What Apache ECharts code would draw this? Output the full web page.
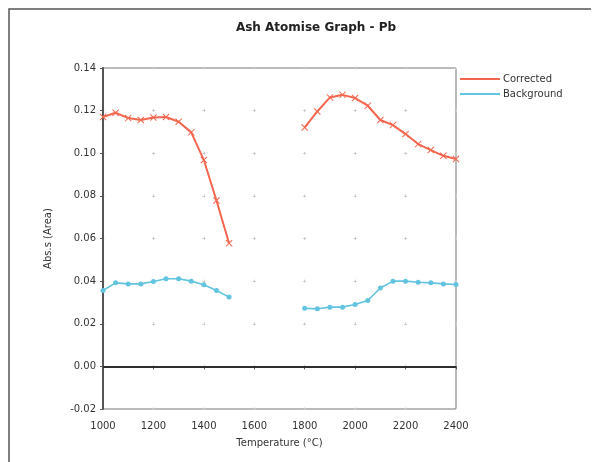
<!DOCTYPE html>
<html><head><meta charset="utf-8">
<script src="https://cdn.jsdelivr.net/npm/echarts@6/dist/echarts.min.js"></script>
<style>html,body{margin:0;padding:0;background:#fff}#c{width:602px;height:462px}</style>
</head><body><div id="c"></div>
<script>
var temperatures = [1000,1050,1100,1150,1200,1250,1300,1350,1400,1450,1500,1650,1800,1850,1900,1950,2000,2050,2100,2150,2200,2250,2300,2350,2400];
var corrected = [0.117,0.119,0.1165,0.1156,0.1168,0.117,0.1148,0.1098,0.0968,0.0778,0.0578,null,0.1121,0.1196,0.1262,0.1274,0.1259,0.1223,0.1156,0.1132,0.109,0.1043,0.1015,0.0988,0.0973];
var background = [0.0356,0.0392,0.0387,0.0387,0.0398,0.0411,0.0411,0.04,0.0383,0.0356,0.0325,null,0.0273,0.027,0.0278,0.0278,0.029,0.0309,0.0368,0.04,0.04,0.0395,0.0392,0.0387,0.0384];
var seriesNames = ['Corrected','Background'];
var titleText = 'Ash Atomise Graph - Pb';
var xName = 'Temperature (\u00B0C)';
var yName = 'Abs.s (Area)';

function pairs(vals){ return temperatures.map(function(t,i){ return [t, vals[i]===null ? '-' : vals[i]]; }); }
var crossPath = 'path://M0,1L1,0L5,4L9,0L10,1L6,5L10,9L9,10L5,6L1,10L0,9L4,5Z';
var font = 'DejaVu Sans';
var chart = echarts.init(document.getElementById('c'));
chart.setOption({
  animation:false,
  backgroundColor:'#fff',
  textStyle:{fontFamily:font},
  title:{text:titleText,left:311,top:17,textAlign:'center',textStyle:{fontSize:12,fontWeight:'bold',color:'#222',fontFamily:font}},
  legend:{orient:'vertical',left:455,top:69,itemWidth:40,itemHeight:2,itemGap:5,icon:'rect',
    textStyle:{fontSize:10,color:'#333',fontFamily:font,padding:[0,0,0,-2]},data:seriesNames},
  grid:{left:103,right:146,top:68,bottom:53,show:true,borderColor:'#777',borderWidth:1},
  xAxis:{type:'value',min:1000,max:2400,interval:200,name:xName,nameLocation:'middle',nameGap:29,
    nameTextStyle:{fontSize:10,color:'#333',fontFamily:font},
    axisLine:{lineStyle:{color:'#555',width:2}},axisTick:{show:true,length:3,lineStyle:{color:'#555'}},
    axisLabel:{fontSize:10,color:'#333',margin:12,fontFamily:font,formatter:function(v){return String(v);}},
    splitLine:{show:true,lineStyle:{color:'#ccc',width:1,type:[3,39.625],dashOffset:1.5}}},
  yAxis:{type:'value',min:-0.02,max:0.14,interval:0.02,name:yName,nameLocation:'middle',nameGap:50,
    nameTextStyle:{fontSize:10,color:'#333',fontFamily:font},
    axisLine:{show:true,onZero:false,lineStyle:{color:'#555',width:2}},axisTick:{show:true,length:3,lineStyle:{color:'#555'}},
    axisLabel:{fontSize:10,color:'#333',margin:7,fontFamily:font,formatter:function(v){return v.toFixed(2);}},
    splitLine:{show:true,lineStyle:{color:'#ccc',width:1,type:[3,47.43],dashOffset:1.5}}},
  graphic:[{type:'polyline',shape:{points:[[9,462],[9,9],[591,9]]},style:{stroke:'#555',lineWidth:1.5,fill:null},silent:true}],
  series:[
    {name:seriesNames[0],type:'line',data:pairs(corrected),connectNulls:false,
      symbol:crossPath,symbolSize:7,showAllSymbol:true,
      lineStyle:{color:'#f4674f',width:2},itemStyle:{color:'#f4674f'},
      markLine:{silent:true,symbol:'none',label:{show:false},lineStyle:{color:'#222',width:1.5,type:'solid'},data:[{yAxis:0}]}},
    {name:seriesNames[1],type:'line',data:pairs(background),connectNulls:false,
      symbol:'circle',symbolSize:5,showAllSymbol:true,
      lineStyle:{color:'#62c4de',width:1.6},itemStyle:{color:'#62c4de'}}
  ]
});
</script></body></html>
